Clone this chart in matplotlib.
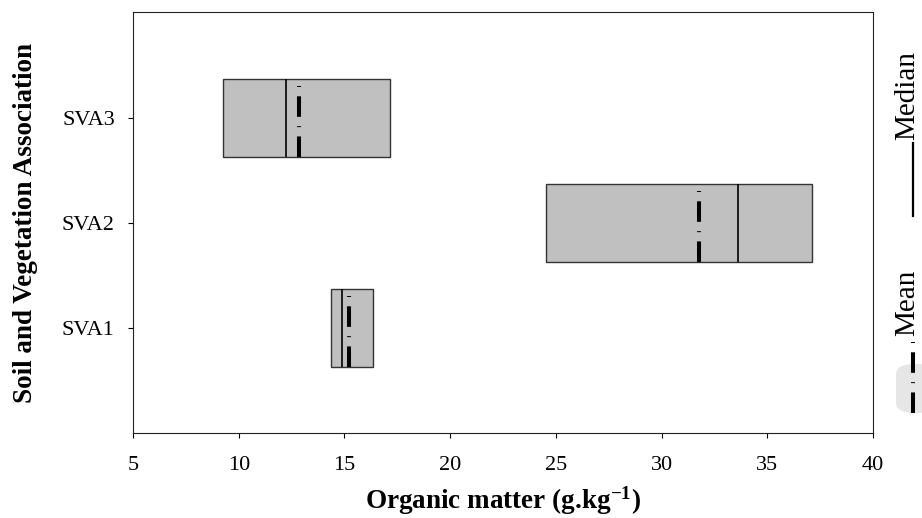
import matplotlib
matplotlib.use("Agg")
import matplotlib.pyplot as plt
from matplotlib.lines import Line2D
from matplotlib.patches import FancyBboxPatch

plt.rcParams["font.family"] = ["Liberation Serif", "DejaVu Serif"]
plt.rcParams["mathtext.fontset"] = "custom"
plt.rcParams["mathtext.rm"] = "Liberation Serif:bold"
plt.rcParams["mathtext.default"] = "rm"
plt.rcParams["lines.scale_dashes"] = False

# values
groups = ["SVA1", "SVA2", "SVA3"]
q1 = [14.37, 24.55, 9.27]
q3 = [16.37, 37.12, 17.16]
medians = [14.87, 33.62, 12.22]
means = [15.20, 31.77, 12.85]
x_ticks = [5, 10, 15, 20, 25, 30, 35, 40]

MEAN_STYLE = (0, (14.8, 6.7, 0.7, 6.7))

fig = plt.figure(figsize=(9.22, 5.18), dpi=100)
ax = fig.add_axes([0.1443, 0.1641, 0.8026, 0.8127])

stats = []
for name, a, b, m, mu in zip(groups, q1, q3, medians, means):
    stats.append(dict(label=name, q1=a, q3=b, med=m, mean=mu, whislo=a, whishi=b, fliers=[]))

ax.bxp(stats, positions=[1, 2, 3], widths=0.735, orientation="horizontal",
       patch_artist=True, showmeans=True, meanline=True, showcaps=False, showfliers=False,
       boxprops=dict(facecolor="#C0C0C0", edgecolor="#333333", linewidth=1.0),
       medianprops=dict(color="black", linewidth=1.2),
       meanprops=dict(color="black", linewidth=2.9, linestyle=MEAN_STYLE),
       whiskerprops=dict(linewidth=0))

ax.set_xlim(5, 40)
ax.set_ylim(0, 4.01)
ax.set_xticks(x_ticks)
ax.set_xticklabels([str(v) for v in x_ticks])
ax.set_yticks([1, 2, 3])
ax.set_yticklabels(groups)
ax.tick_params(axis="x", direction="out", length=3.6, width=0.8, pad=13, labelsize=16)
ax.tick_params(axis="y", direction="out", length=3.6, width=0.8, pad=9.5, labelsize=16)
for sp in ax.spines.values():
    sp.set_linewidth(0.8)
    sp.set_color("#222222")

ax.set_xlabel(r"Organic matter (g.kg$^{-1}$)", fontsize=19.5, fontweight="bold", labelpad=6.5)
ax.set_ylabel("Soil and Vegetation Association", fontsize=19.5, fontweight="bold")
ax.yaxis.set_label_coords(-0.128, 0.5)

# rotated legend on the right edge
W, H = 922.0, 518.0
fig.text(907 / W, 1 - 95 / H, "Median", rotation=90, ha="center", va="center", fontsize=21)
fig.add_artist(Line2D([913 / W, 913 / W], [1 - 216 / H, 1 - 143 / H], color="black", linewidth=1.6))
fig.add_artist(FancyBboxPatch((896 / W, 1 - 413 / H), 40 / W, 49 / H,
                              boxstyle="round,pad=0,rounding_size=0.02",
                              facecolor="#E6E6E6", edgecolor="none", zorder=0))
fig.text(907 / W, 1 - 303 / H, "Mean", rotation=90, ha="center", va="center", fontsize=21)
fig.add_artist(Line2D([913 / W, 913 / W], [1 - 413 / H, 1 - 341 / H], color="black",
                      linewidth=2.9, linestyle=MEAN_STYLE))

fig.savefig("out.png", dpi=100, facecolor="white")
